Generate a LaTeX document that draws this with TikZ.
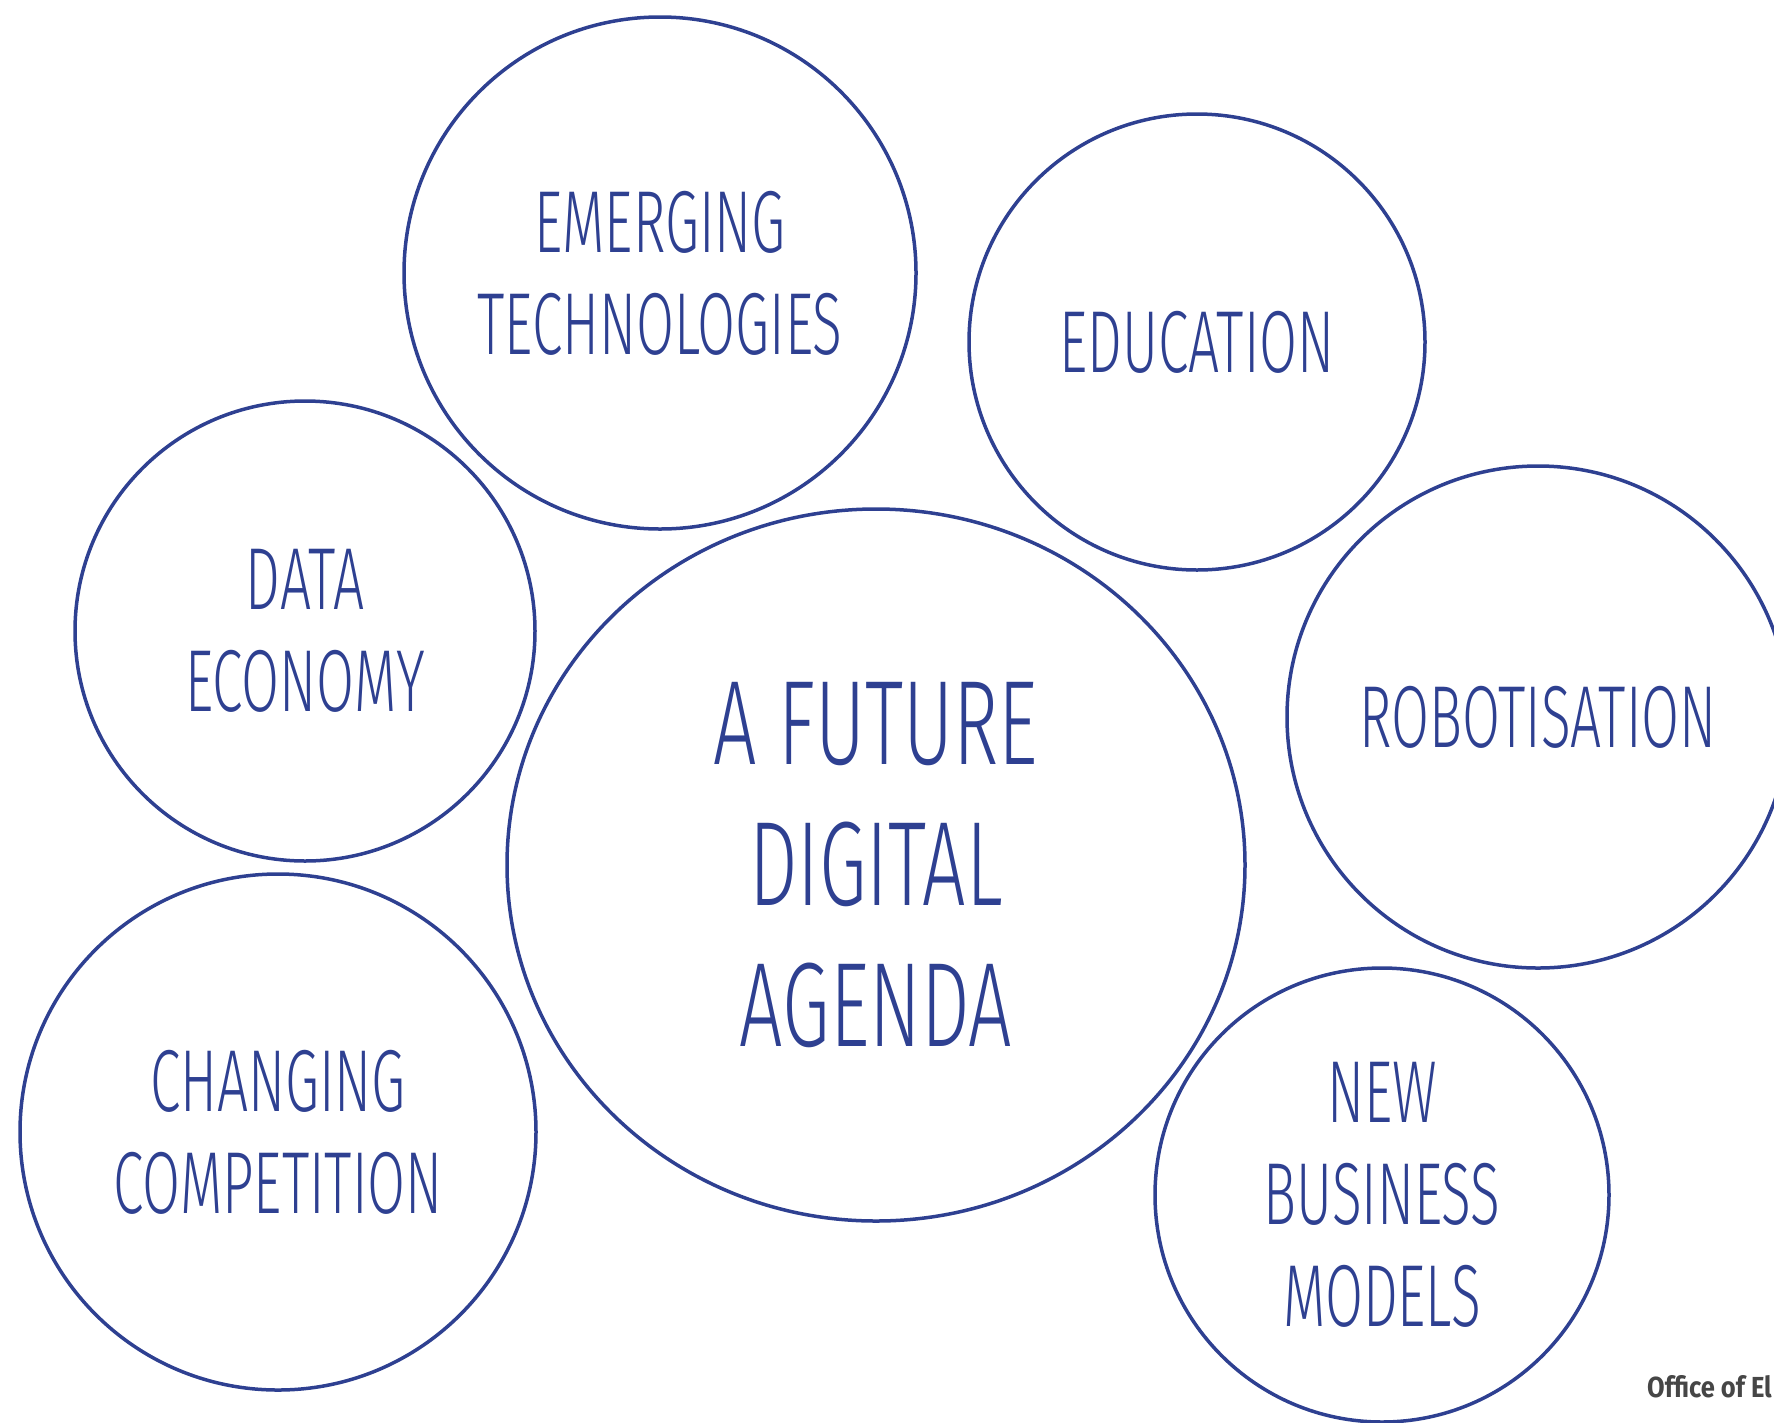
\documentclass[tikz,border=0pt]{standalone}
\usepackage{fontspec}
\usetikzlibrary{shapes.geometric}
\newfontfamily\bubfont[FakeStretch=0.625]{Fira Sans Light}
\newfontfamily\hubfont[FakeStretch=0.64]{Fira Sans Light}
\newfontfamily\notefont[FakeStretch=0.88]{Fira Sans}
\definecolor{bubblue}{RGB}{46,64,145}
\definecolor{notegrey}{RGB}{70,70,70}
\tikzset{
  bubble/.style={
    circle, draw=bubblue, line width=3.5pt, inner sep=0pt,
    align=center, text=bubblue,
    font=\bubfont\fontsize{88}{102}\selectfont
  },
  hub/.style={
    bubble, ellipse,
    font=\hubfont\fontsize{120}{141}\selectfont
  }
}

\begin{document}
\begin{tikzpicture}[x=1pt,y=-1pt]
  \useasboundingbox (0,0) rectangle (1774,1422);

  % The big central bubble
  \node[hub, minimum width=738pt, minimum height=712pt] (agenda) at (876,865)
    {A FUTURE\\DIGITAL\\AGENDA};

  % Six bubbles around it
  \node[bubble, minimum size=512pt] (emerging) at (660,273) {EMERGING\\TECHNOLOGIES};
  \node[bubble, minimum size=456pt] (education) at (1197,342) {EDUCATION};
  \node[bubble, minimum size=460pt] (data) at (305,631) {DATA\\ECONOMY};
  \node[bubble, minimum size=502pt] (robot) at (1538,717) {ROBOTISATION};
  \node[bubble, minimum size=516pt] (changing) at (278,1132) {CHANGING\\COMPETITION};
  \node[bubble, minimum size=454pt] (newmodels) at (1382,1195) {NEW\\BUSINESS\\MODELS};

  % Credit in the corner
  \node[anchor=base east, inner sep=0pt, text=notegrey,
        font=\notefont\bfseries\fontsize{29}{30}\selectfont] (credit) at (1772,1397) {Office of El};
\end{tikzpicture}
\end{document}
